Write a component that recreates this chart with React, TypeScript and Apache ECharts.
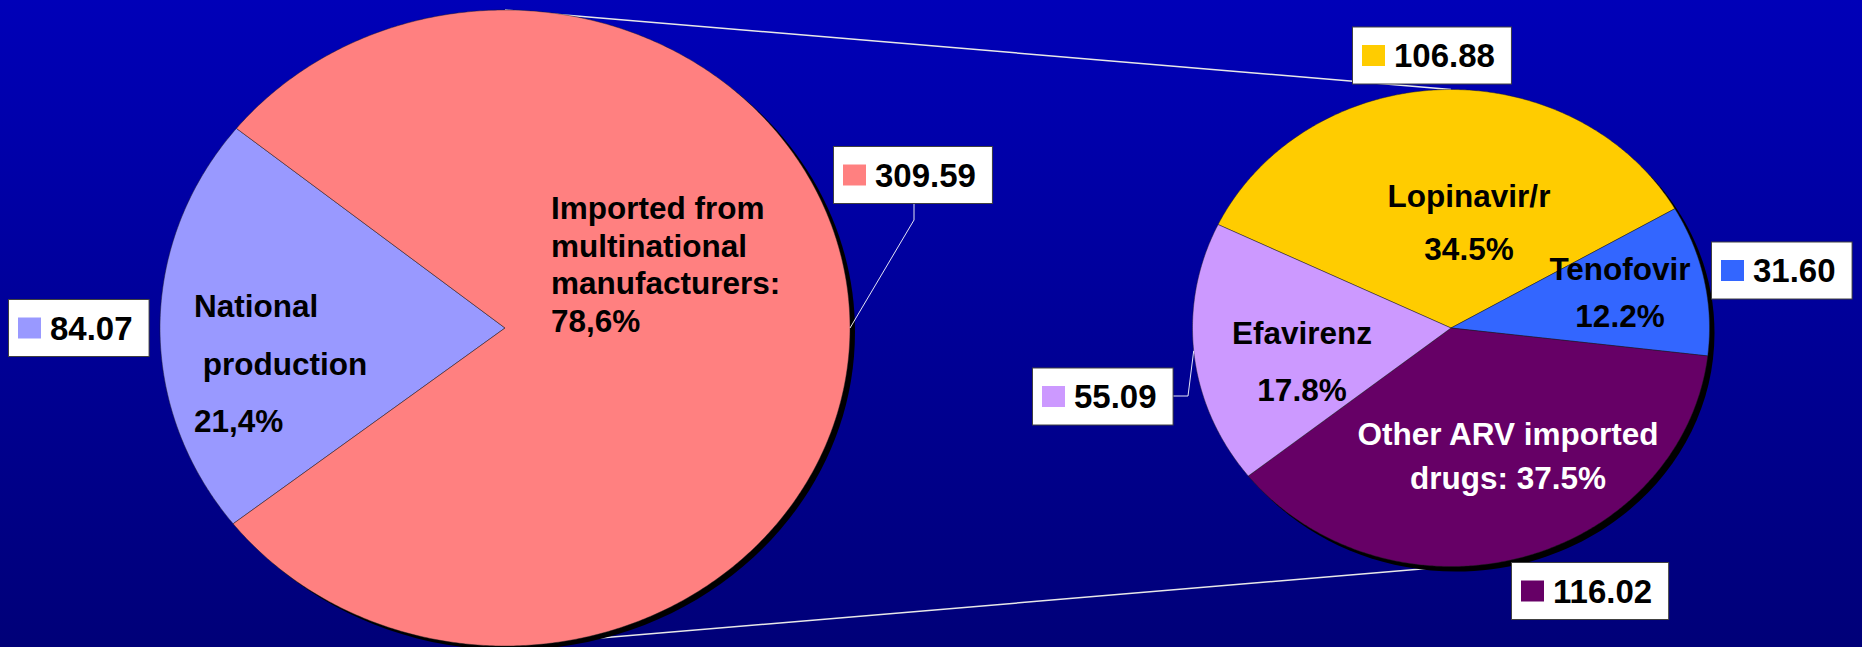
import React, { useEffect, useRef } from "react";
import * as echarts from "echarts";

// ---------------- data ----------------
const mainCategories = ["National production", "Imported from multinational manufacturers"];
const mainValues = [84.07, 309.59];
const mainLabelLines = [
  ["National", " production", "21,4%"],
  ["Imported from", "multinational", "manufacturers:", "78,6%"],
];

const arvCategories = ["Lopinavir/r", "Tenofovir", "Other ARV imported drugs", "Efavirenz"];
const arvValues = [106.88, 31.6, 116.02, 55.09];
const arvLabelLines = [
  ["Lopinavir/r", "34.5%"],
  ["Tenofovir", "12.2%"],
  ["Other ARV imported", "drugs: 37.5%"],
  ["Efavirenz", "17.8%"],
];

// ---------------- styles / layout ----------------
const W = 1862;
const H = 647;
const FONT = '"Liberation Sans", Arial, Helvetica, sans-serif';
const LABEL_SIZE = 31.5;
const BOX_SIZE = 33;

const mainColors = ["#9999FF", "#FF8080"];
const arvColors = ["#FFCC00", "#3366FF", "#660066", "#CC99FF"];

const LEFT_PIE = { cx: 505, cy: 328, rx: 345, ry: 318, startAngle: 218 };
const RIGHT_PIE = { cx: 1451, cy: 328, rx: 258.5, ry: 238.5, startAngle: 154.3 };

const mainLabelLayout = [
  { dx: -311, dy: 35.6, align: "left", lineHeight: 57.5, color: "#000000" },
  { dx: 46, dy: -63.4, align: "left", lineHeight: 37.7, color: "#000000" },
];
const arvLabelLayout = [
  { dx: 18, dy: -105.4, align: "center", lineHeight: 53, color: "#000000" },
  { dx: 169, dy: -35.4, align: "center", lineHeight: 47, color: "#000000" },
  { dx: 57, dy: 128.1, align: "center", lineHeight: 44, color: "#FFFFFF" },
  { dx: -149, dy: 33.6, align: "center", lineHeight: 57, color: "#000000" },
];

const mainBoxLayout = [
  { dx: -496, dy: 0 },
  { dx: 329, dy: -153 },
];
const arvBoxLayout = [
  { dx: -98, dy: -272.5 },
  { dx: 261, dy: -57.5 },
  { dx: 61, dy: 263 },
  { dx: -418, dy: 68.5 },
];

const mainLeaders: any[] = [
  null,
  { points: [[409, -125], [409, -108]], edgeAngle: 0 },
];
const arvLeaders: any[] = [
  null,
  null,
  null,
  { points: [[-279, 68], [-263, 68]], edgeAngle: 185.5 },
];

function ellipsePoint(pie: any, deg: number) {
  const a = (deg * Math.PI) / 180;
  return [pie.cx + pie.rx * Math.cos(a), pie.cy - pie.ry * Math.sin(a)];
}

function pieRenderer(
  pie: any,
  values: number[],
  colors: string[],
  labelLines: string[][],
  labelLayout: any[],
  boxLayout: any[],
  leaders: any[]
) {
  const total = values.reduce((s, v) => s + v, 0);
  return (params: any, api: any) => {
    const i = params.dataIndex;
    const v = api.value(0) as number;
    let before = 0;
    for (let k = 0; k < i; k++) before += values[k];
    const a0 = pie.startAngle - (before / total) * 360;
    const sweep = (v / total) * 360;
    const n = Math.max(4, Math.ceil(sweep * 2));
    const pts: number[][] = [[pie.cx, pie.cy]];
    for (let s = 0; s <= n; s++) pts.push(ellipsePoint(pie, a0 - (sweep * s) / n));

    const children: any[] = [
      {
        type: "polygon",
        z2: 1,
        shape: { points: pts },
        style: { fill: colors[i], stroke: "rgba(30,30,30,0.75)", lineWidth: 0.6 },
      },
    ];

    const lab = labelLayout[i];
    children.push({
      type: "text",
      z2: 5,
      x: pie.cx + lab.dx,
      y: pie.cy + lab.dy,
      style: {
        text: labelLines[i].join("\n"),
        fill: lab.color,
        fontSize: LABEL_SIZE,
        fontWeight: "bold",
        fontFamily: FONT,
        align: lab.align,
        verticalAlign: "middle",
        lineHeight: lab.lineHeight,
      },
    });

    const box = boxLayout[i];
    const bx = pie.cx + box.dx;
    const by = pie.cy + box.dy;
    children.push({
      type: "text",
      z2: 10,
      x: bx,
      y: by,
      style: {
        text: v.toFixed(2),
        fill: "#000000",
        fontSize: BOX_SIZE,
        fontWeight: "bold",
        fontFamily: FONT,
        align: "left",
        verticalAlign: "middle",
        lineHeight: 36,
        padding: [13, 16, 7, 41],
        backgroundColor: "#FFFFFF",
        borderColor: "#404040",
        borderWidth: 1,
      },
    });
    children.push({
      type: "rect",
      z2: 11,
      shape: { x: bx + 9, y: by - 10.5, width: 23, height: 21 },
      style: { fill: colors[i] },
    });

    const ld = leaders[i];
    if (ld) {
      const lp = ld.points.map((p: number[]) => [pie.cx + p[0], pie.cy + p[1]]);
      lp.push(ellipsePoint(pie, ld.edgeAngle));
      children.push({
        type: "polyline",
        z2: 9,
        shape: { points: lp },
        style: { stroke: "#E4E4F4", lineWidth: 1, fill: "none" },
      });
    }
    return { type: "group", children };
  };
}

const option: any = {
  animation: false,
  backgroundColor: "transparent",
  graphic: [
    {
      type: "rect",
      z: 0,
      z2: 0,
      silent: true,
      shape: { x: 0, y: 0, width: W, height: H },
      style: {
        fill: new echarts.graphic.LinearGradient(0, 0, 0, 1, [
          { offset: 0, color: "#0000B8" },
          { offset: 1, color: "#000078" },
        ]),
      },
    },
    {
      type: "line",
      z: 0,
      z2: 1,
      silent: true,
      shape: {
        x1: LEFT_PIE.cx,
        y1: LEFT_PIE.cy - LEFT_PIE.ry,
        x2: RIGHT_PIE.cx,
        y2: RIGHT_PIE.cy - RIGHT_PIE.ry,
      },
      style: { stroke: "#E8E8E8", lineWidth: 1.5 },
    },
    {
      type: "line",
      z: 0,
      z2: 1,
      silent: true,
      shape: {
        x1: LEFT_PIE.cx,
        y1: LEFT_PIE.cy + LEFT_PIE.ry,
        x2: RIGHT_PIE.cx,
        y2: RIGHT_PIE.cy + RIGHT_PIE.ry,
      },
      style: { stroke: "#E8E8E8", lineWidth: 1.5 },
    },
    {
      type: "ellipse",
      z: 0,
      z2: 2,
      silent: true,
      shape: { cx: LEFT_PIE.cx + 5, cy: LEFT_PIE.cy + 4, rx: LEFT_PIE.rx, ry: LEFT_PIE.ry },
      style: { fill: "#000000" },
    },
    {
      type: "ellipse",
      z: 0,
      z2: 2,
      silent: true,
      shape: { cx: RIGHT_PIE.cx + 5, cy: RIGHT_PIE.cy + 5, rx: RIGHT_PIE.rx, ry: RIGHT_PIE.ry },
      style: { fill: "#000000" },
    },
  ],
  series: [
    {
      type: "custom",
      name: "ARV market",
      coordinateSystem: "none",
      silent: true,
      z: 2,
      renderItem: pieRenderer(
        LEFT_PIE,
        mainValues,
        mainColors,
        mainLabelLines,
        mainLabelLayout,
        mainBoxLayout,
        mainLeaders
      ),
      data: mainValues.map((v, i) => ({ name: mainCategories[i], value: [v] })),
    },
    {
      type: "custom",
      name: "Imported ARV drugs",
      coordinateSystem: "none",
      silent: true,
      z: 2,
      renderItem: pieRenderer(
        RIGHT_PIE,
        arvValues,
        arvColors,
        arvLabelLines,
        arvLabelLayout,
        arvBoxLayout,
        arvLeaders
      ),
      data: arvValues.map((v, i) => ({ name: arvCategories[i], value: [v] })),
    },
  ],
};

export default function App() {
  const ref = useRef<HTMLDivElement>(null);
  useEffect(() => {
    document.body.style.margin = "0";
    document.body.style.overflow = "hidden";
    const chart = echarts.init(ref.current as HTMLDivElement, null, {
      renderer: "svg",
      width: W,
      height: H,
    });
    chart.setOption(option);
    return () => {
      chart.dispose();
    };
  }, []);
  return <div ref={ref} style={{ width: W, height: H }} />;
}
